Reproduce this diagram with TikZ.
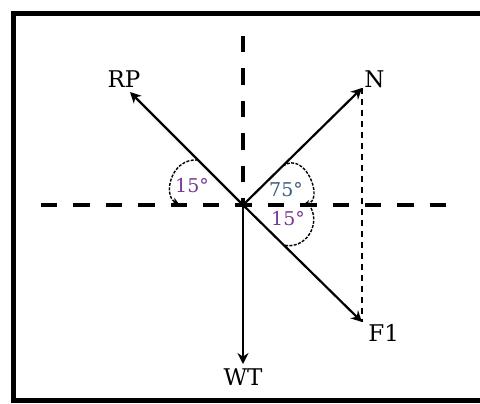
\documentclass[tikz,border=0pt]{standalone}
\usepackage{fontspec}
\setmainfont{DejaVu Serif}
\usetikzlibrary{arrows.meta,positioning}
\definecolor{AngleSmall}{HTML}{7A3A92}
\definecolor{AngleLarge}{HTML}{3E5E7E}
\tikzset{
  frame/.style={line width=2.5pt, draw=black},
  axis/.style={line width=1.6pt, dash pattern=on 8.2pt off 8pt},
  guide/.style={line width=0.6pt, dash pattern=on 3pt off 2.5pt},
  force/.style={-{Stealth[length=5.5pt,width=5.5pt]}, line width=1.1pt, draw=black},
  anglearc/.style={line width=0.7pt, dash pattern=on 1.5pt off 0.7pt},
  arctip/.style={-{Stealth[length=3.5pt,width=3.5pt]}},
  label/.style={font=\fontsize{11.5}{13}\selectfont, inner sep=1pt},
  degree/.style={font=\fontsize{9.5}{11}\selectfont, inner sep=0pt}
}

\begin{document}
\begin{tikzpicture}[x=0.5pt, y=-0.5pt]
  \useasboundingbox (0,0) rectangle (480,403);
  \draw[frame] (482,13) -- (13,13) -- (13,400) -- (482,400);
  \coordinate (O) at (243,205);
  \coordinate (west) at (41,205);
  \coordinate (east) at (447,205);
  \coordinate (north) at (243,36);
  \coordinate (rptip) at (130,92);
  \coordinate (ntip) at (362,88);
  \coordinate (ftip) at (362,322);
  \coordinate (wtip) at (243,364);
  \coordinate (arcRPs) at (198,160);
  \coordinate (arcRPe) at (179,204);
  \coordinate (arcNs) at (283,166);
  \coordinate (arcNe) at (303,205);
  \coordinate (arcFs) at (311,208);
  \coordinate (arcFe) at (283,245);
  \node[label, above=1pt of rptip, xshift=-3pt] (RP) {RP};
  \node[label, above right=-1pt and 0pt of ntip] (N) {N};
  \node[label, below right=0pt and 2pt of ftip] (F1) {F1};
  \node[label, below=1pt of wtip] (WT) {WT};
  \node[degree, text=AngleSmall] (angRP) at (192,186) {15°};
  \node[degree, text=AngleLarge] (angN) at (286,190) {75°};
  \node[degree, text=AngleSmall] (angF) at (288,219) {15°};
  \draw[axis] (west) -- (east);
  \draw[axis] (north) -- (O);
  \draw[guide] (ntip) -- (ftip);
  \draw[force] (O) -- (rptip);
  \draw[force] (O) -- (ntip);
  \draw[force] (O) -- (ftip);
  \draw[force] (O) -- (wtip);
  \draw[anglearc, arctip] (arcRPs) .. controls (170,158) and (163,196) .. (arcRPe);
  \draw[anglearc, arctip] (arcNs) .. controls (305,150) and (325,200) .. (arcNe);
  \draw[anglearc] (arcFs) .. controls (320,225) and (306,250) .. (arcFe);
\end{tikzpicture}
\end{document}
